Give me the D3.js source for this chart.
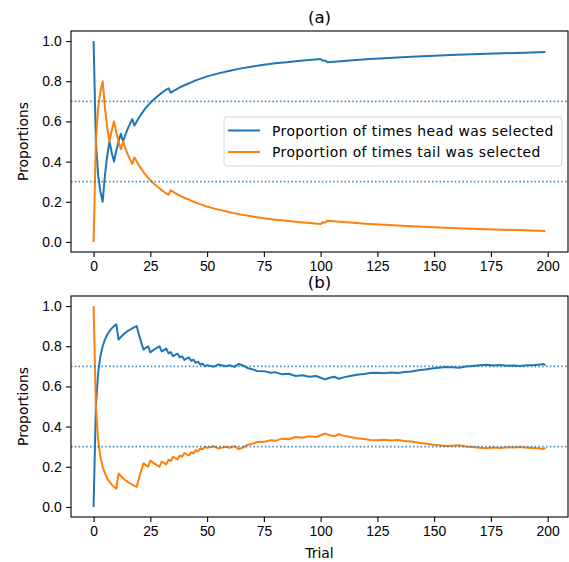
<!DOCTYPE html>
<html>
<head>
<meta charset="utf-8">
<script src="https://cdn.jsdelivr.net/npm/d3@7"></script>
<style>
  body { margin: 0; background: #fff; }
  svg { font-family: "DejaVu Sans", sans-serif; }
  .tick text { font-size: 13.9px; fill: #000; }
  .tick line, .domain { stroke: #000; }
</style>
</head>
<body>
<div id="chart"></div>
<script>
// Panel (a): proportions by trial
const trialsA = [0,1,2,3,4,5,6,7,8,9,10,11,12,13,14,15,16,17,18,19,20,21,22,23,24,25,26,27,28,29,30,31,32,33,34,36,38,40,45,50,55,60,65,70,75,80,85,90,95,100,101,102,103,110,120,130,140,150,160,170,180,190,199];
const headA = [1.0,0.5,0.333,0.25,0.2,0.333,0.429,0.5,0.444,0.4,0.455,0.5,0.538,0.5,0.533,0.563,0.588,0.611,0.579,0.6,0.619,0.636,0.652,0.667,0.68,0.692,0.704,0.714,0.724,0.733,0.742,0.75,0.758,0.765,0.743,0.757,0.769,0.78,0.804,0.824,0.839,0.852,0.864,0.873,0.882,0.889,0.895,0.901,0.906,0.911,0.902,0.903,0.894,0.901,0.909,0.916,0.922,0.927,0.932,0.936,0.939,0.942,0.945];
const tailA = [0.0,0.5,0.667,0.75,0.8,0.667,0.571,0.5,0.556,0.6,0.545,0.5,0.462,0.5,0.467,0.437,0.412,0.389,0.421,0.4,0.381,0.364,0.348,0.333,0.32,0.308,0.296,0.286,0.276,0.267,0.258,0.25,0.242,0.235,0.257,0.243,0.231,0.22,0.196,0.176,0.161,0.148,0.136,0.127,0.118,0.111,0.105,0.099,0.094,0.089,0.098,0.097,0.106,0.099,0.091,0.084,0.078,0.073,0.068,0.064,0.061,0.058,0.055];

// Panel (b)
const trialsB = [0,1,2,3,4,5,6,7,8,9,10,11,12,13,14,15,16,17,18,19,20,21,22,23,24,25,26,27,28,29,30,31,32,33,34,35,36,37,38,39,40,41,42,43,44,45,46,47,48,49,50,53,55,58,60,62,64,66,68,70,72,75,78,80,83,86,89,92,95,98,100,102,104,106,108,110,113,116,119,122,125,128,131,134,137,140,143,146,149,152,155,158,161,164,167,170,173,176,179,182,185,188,191,194,197,198,199];
const headB = [0,0.5,0.667,0.75,0.8,0.833,0.857,0.875,0.889,0.9,0.909,0.833,0.846,0.857,0.867,0.875,0.882,0.889,0.895,0.9,0.857,0.818,0.783,0.792,0.8,0.769,0.778,0.786,0.793,0.8,0.774,0.781,0.788,0.765,0.771,0.75,0.757,0.763,0.744,0.75,0.732,0.738,0.744,0.727,0.733,0.717,0.723,0.708,0.714,0.7,0.706,0.698,0.709,0.7,0.705,0.697,0.712,0.703,0.69,0.685,0.677,0.676,0.668,0.671,0.66,0.663,0.652,0.656,0.648,0.652,0.643,0.635,0.643,0.648,0.638,0.645,0.652,0.658,0.662,0.667,0.668,0.665,0.669,0.667,0.672,0.674,0.68,0.684,0.689,0.693,0.697,0.695,0.693,0.699,0.702,0.705,0.708,0.704,0.706,0.703,0.704,0.702,0.705,0.706,0.709,0.712,0.706];
const tailB = [1,0.5,0.333,0.25,0.2,0.167,0.143,0.125,0.111,0.1,0.091,0.167,0.154,0.143,0.133,0.125,0.118,0.111,0.105,0.1,0.143,0.182,0.217,0.208,0.2,0.231,0.222,0.214,0.207,0.2,0.226,0.219,0.212,0.235,0.229,0.25,0.243,0.237,0.256,0.25,0.268,0.262,0.256,0.273,0.267,0.283,0.277,0.292,0.286,0.3,0.294,0.302,0.291,0.3,0.295,0.303,0.288,0.297,0.31,0.315,0.323,0.324,0.332,0.329,0.34,0.337,0.348,0.344,0.352,0.348,0.357,0.365,0.357,0.352,0.362,0.355,0.348,0.342,0.338,0.333,0.332,0.335,0.331,0.333,0.328,0.326,0.32,0.316,0.311,0.307,0.303,0.305,0.307,0.301,0.298,0.295,0.292,0.296,0.294,0.297,0.296,0.298,0.295,0.294,0.291,0.288,0.294];

const xTicks = [0,25,50,75,100,125,150,175,200];
const yTicks = [0,0.2,0.4,0.6,0.8,1.0];
const refLevels = [0.3, 0.7];
const legendLabels = ['Proportion of times head was selected', 'Proportion of times tail was selected'];

const HEAD_COLOR = '#1f77b4';
const TAIL_COLOR = '#ff7f0e';

const width = 569, height = 562;
const left = 71, right = 568;

const svg = d3.select('#chart').append('svg')
    .attr('width', width)
    .attr('height', height);

// x range with matplotlib style 5% margins around 0..199
const x = d3.scaleLinear().domain([-9.95, 208.95]).range([left, right]);

function drawPanel(top, bottom, trials, head, tail, title, showLegend, showXLabel) {
    const y = d3.scaleLinear().domain([-0.05, 1.05]).range([bottom, top]);
    const g = svg.append('g');

    const line = d3.line()
        .x(d => x(d[0]))
        .y(d => y(d[1]));

    const clipId = 'clip-' + title.replace(/[()]/g, '');
    svg.append('clipPath').attr('id', clipId)
        .append('rect')
        .attr('x', left).attr('y', top)
        .attr('width', right - left).attr('height', bottom - top);

    const plot = g.append('g').attr('clip-path', `url(#${clipId})`);

    plot.append('path')
        .datum(trials.map((t, i) => [t, head[i]]))
        .attr('d', line)
        .attr('fill', 'none')
        .attr('stroke', HEAD_COLOR)
        .attr('stroke-width', 2)
        .attr('stroke-linejoin', 'round');

    plot.append('path')
        .datum(trials.map((t, i) => [t, tail[i]]))
        .attr('d', line)
        .attr('fill', 'none')
        .attr('stroke', TAIL_COLOR)
        .attr('stroke-width', 2)
        .attr('stroke-linejoin', 'round');

    // dotted reference levels
    plot.selectAll('.ref')
        .data(refLevels)
        .enter()
        .append('line')
        .attr('x1', left).attr('x2', right)
        .attr('y1', d => y(d)).attr('y2', d => y(d))
        .attr('stroke', HEAD_COLOR)
        .attr('stroke-opacity', 0.85)
        .attr('stroke-width', 1.7)
        .attr('stroke-dasharray', '1.5,2.3');

    // axes
    const xAxis = d3.axisBottom(x).tickValues(xTicks).tickSize(4.9).tickPadding(4.5).tickFormat(d3.format('d'));
    g.append('g')
        .attr('transform', `translate(0,${bottom})`)
        .call(xAxis)
        .call(a => a.select('.domain').remove());

    const yAxis = d3.axisLeft(y).tickValues(yTicks).tickSize(4.9).tickPadding(4.5).tickFormat(d3.format('.1f'));
    g.append('g')
        .attr('transform', `translate(${left},0)`)
        .call(yAxis)
        .call(a => a.select('.domain').remove());

    g.selectAll('.tick line').attr('stroke-width', 1.1);

    // frame
    g.append('rect')
        .attr('x', left).attr('y', top)
        .attr('width', right - left).attr('height', bottom - top)
        .attr('fill', 'none')
        .attr('stroke', '#000')
        .attr('stroke-width', 1.1);

    g.append('text')
        .attr('x', (left + right) / 2)
        .attr('y', top - 8.5)
        .attr('text-anchor', 'middle')
        .attr('font-size', '16.7px')
        .text(title);

    g.append('text')
        .attr('transform', `translate(28,${(top + bottom) / 2}) rotate(-90)`)
        .attr('text-anchor', 'middle')
        .attr('font-size', '13.9px')
        .text('Proportions');

    if (showXLabel) {
        g.append('text')
            .attr('x', (left + right) / 2)
            .attr('y', bottom + 41)
            .attr('text-anchor', 'middle')
            .attr('font-size', '13.9px')
            .text('Trial');
    }

    if (showLegend) {
        const lg = g.append('g');
        const boxX = 224, boxW = 338, boxH = 49;
        const boxY = (top + bottom) / 2 - boxH / 2;
        lg.append('rect')
            .attr('x', boxX).attr('y', boxY)
            .attr('width', boxW).attr('height', boxH)
            .attr('rx', 3)
            .attr('fill', 'rgba(255,255,255,0.8)')
            .attr('stroke', '#d5d5d5')
            .attr('stroke-width', 1);
        const colors = [HEAD_COLOR, TAIL_COLOR];
        legendLabels.forEach((label, i) => {
            const cy = boxY + 13.5 + i * 21.5;
            lg.append('line')
                .attr('x1', boxX + 4).attr('x2', boxX + 36)
                .attr('y1', cy).attr('y2', cy)
                .attr('stroke', colors[i])
                .attr('stroke-width', 2);
            lg.append('text')
                .attr('x', boxX + 48)
                .attr('y', cy + 5)
                .attr('font-size', '13.9px')
                .attr('letter-spacing', '0.42px')
                .text(label);
        });
    }
}

drawPanel(31, 252, trialsA, headA, tailA, '(a)', true, false);
drawPanel(296, 517, trialsB, headB, tailB, '(b)', false, true);
</script>
</body>
</html>
